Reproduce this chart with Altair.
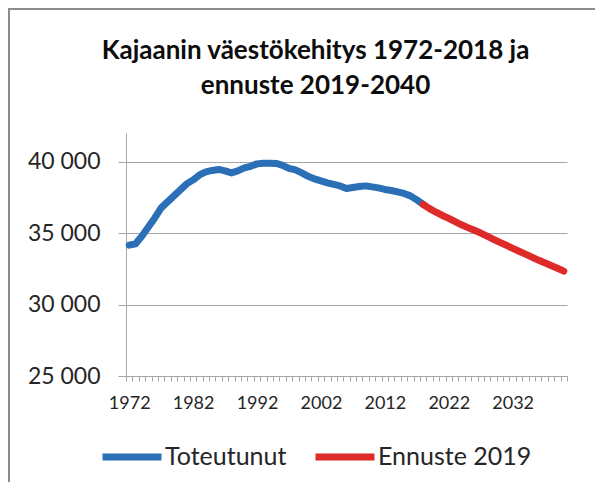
import altair as alt
import pandas as pd

# ---- data ----
years_actual = list(range(1972, 2019))
actual = [34150, 34250, 34800, 35430, 36060, 36760, 37180, 37600, 38020, 38440,
          38720, 39070, 39280, 39380, 39450, 39350, 39210, 39350, 39560, 39670,
          39840, 39890, 39890, 39870, 39740, 39530, 39420, 39210, 38970, 38790,
          38650, 38510, 38400, 38300, 38120, 38190, 38260, 38300, 38230, 38160,
          38050, 37980, 37880, 37770, 37600, 37320, 37000]

years_forecast = list(range(2018, 2041))
forecast = [37000, 36710, 36460, 36230, 36030, 35800, 35580, 35380, 35190, 35000,
            34780, 34560, 34350, 34150, 33930, 33730, 33530, 33320, 33110, 32920,
            32730, 32540, 32340]

series_names = ["Toteutunut", "Ennuste 2019"]
series_colors = ["#2b6fb6", "#df2a2a"]
y_ticks = [25000, 30000, 35000, 40000]
title_lines = ["Kajaanin väestökehitys 1972-2018 ja", "ennuste 2019-2040"]

df = pd.concat([
    pd.DataFrame({"vuosi": years_actual, "asukkaat": actual, "sarja": series_names[0]}),
    pd.DataFrame({"vuosi": years_forecast, "asukkaat": forecast, "sarja": series_names[1]}),
])

W, H = 441, 243
PAD = {"left": 118, "top": 125, "right": 28, "bottom": 106}

x_ticks = [1971.5 + i for i in range(70)]

lines = alt.Chart(df).mark_line(strokeWidth=7, strokeCap="round", strokeJoin="round").encode(
    x=alt.X("vuosi:Q",
            scale=alt.Scale(domain=[1971.5, 2040.5], nice=False, zero=False),
            axis=alt.Axis(title=None, values=x_ticks, grid=False,
                          labelExpr="(datum.value - 1971.5) % 10 == 0 ? toString(datum.value + 0.5) : ''",
                          labelOffset=3.2, labelFlush=False, labelOverlap=False,
                          labelFont="Lato", labelFontSize=18, labelColor="#262626",
                          labelPadding=13, tickSize=5, tickColor="#a6a6a6",
                          domainColor="#a6a6a6")),
    y=alt.Y("asukkaat:Q",
            scale=alt.Scale(domain=[25000, 42000], nice=False, zero=False),
            axis=alt.Axis(title=None, values=y_ticks,
                          labelExpr="replace(format(datum.value, ',d'), ',', ' ')",
                          labelFont="Lato", labelFontSize=23, labelColor="#262626",
                          labelPadding=18, tickSize=8, tickColor="#a6a6a6",
                          domainColor="#a6a6a6", gridColor="#a6a6a6")),
    color=alt.Color("sarja:N",
                    scale=alt.Scale(domain=series_names, range=series_colors),
                    sort=series_names,
                    legend=alt.Legend(title=None, orient="none", direction="horizontal",
                                      legendX=-27, legendY=291,
                                      symbolType="stroke", symbolSize=3481,
                                      symbolStrokeWidth=7, labelOffset=0,
                                      columnPadding=14, padding=0,
                                      labelFont="Lato", labelFontSize=25,
                                      labelColor="#262626")),
    detail="sarja:N",
)

frame_df = pd.DataFrame({"k": [0]})
top_border = alt.Chart(frame_df).mark_rule(color="#8c8c8c", strokeWidth=2).encode(
    x=alt.value(-118), x2=alt.value(W + PAD["right"]), y=alt.value(-124))
left_border = alt.Chart(frame_df).mark_rule(color="#8c8c8c", strokeWidth=2).encode(
    x=alt.value(-117), y=alt.value(-125), y2=alt.value(H + PAD["bottom"]))

chart = alt.layer(lines, top_border, left_border).properties(
    width=W, height=H,
    padding=PAD,
    autosize=alt.AutoSizeParams(type="none"),
    title=alt.TitleParams(text=title_lines, font="Lato", fontSize=26, fontWeight="bold",
                          color="#0d0d0d", anchor="middle", lineHeight=35, dx=-31,
                          baseline="alphabetic", offset=-113),
).configure_view(stroke=None)

chart.save("out.html", embed_options={"renderer": "svg", "actions": False})
